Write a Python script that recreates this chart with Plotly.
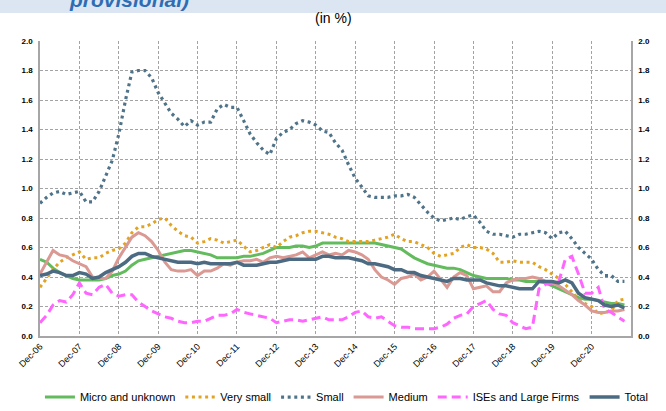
import pandas as pd
import plotly.graph_objects as go

# Bi-monthly observations, Dec-2006 .. Oct-2021 (in %)
dates = pd.date_range("2006-12-01", periods=90, freq="2MS")

micro = [0.52,0.50,0.46,0.43,0.41,0.39,0.38,0.38,0.38,0.38,
         0.39,0.41,0.42,0.44,0.48,0.51,0.52,0.53,0.54,0.55,
         0.56,0.57,0.58,0.58,0.57,0.56,0.55,0.53,0.53,0.53,
         0.53,0.54,0.54,0.55,0.56,0.58,0.60,0.60,0.60,0.61,
         0.61,0.60,0.61,0.63,0.63,0.63,0.63,0.63,0.63,0.63,
         0.63,0.63,0.62,0.61,0.60,0.59,0.56,0.53,0.51,0.49,
         0.48,0.47,0.46,0.46,0.45,0.43,0.41,0.40,0.39,0.39,
         0.39,0.39,0.38,0.38,0.37,0.37,0.37,0.36,0.34,0.32,
         0.30,0.28,0.26,0.25,0.25,0.24,0.23,0.22,0.22,0.21]

very_small = [0.33,0.39,0.45,0.50,0.53,0.55,0.57,0.52,0.53,0.53,
              0.56,0.58,0.59,0.63,0.70,0.74,0.74,0.76,0.79,0.80,
              0.75,0.71,0.68,0.67,0.63,0.64,0.66,0.65,0.63,0.64,
              0.65,0.61,0.57,0.58,0.60,0.62,0.60,0.64,0.67,0.68,
              0.70,0.71,0.71,0.70,0.69,0.67,0.66,0.64,0.64,0.64,
              0.64,0.65,0.66,0.67,0.69,0.66,0.64,0.64,0.62,0.60,
              0.56,0.54,0.55,0.56,0.60,0.62,0.60,0.60,0.59,0.56,
              0.50,0.50,0.51,0.50,0.50,0.50,0.47,0.45,0.42,0.39,
              0.35,0.30,0.25,0.22,0.20,0.15,0.16,0.17,0.24,0.25]

small = [0.90,0.94,0.97,0.98,0.96,0.97,0.98,0.91,0.91,0.98,
         1.09,1.19,1.37,1.60,1.79,1.80,1.80,1.75,1.65,1.58,
         1.51,1.47,1.42,1.46,1.43,1.45,1.45,1.54,1.57,1.55,
         1.55,1.46,1.37,1.31,1.26,1.23,1.34,1.38,1.40,1.44,
         1.46,1.45,1.43,1.39,1.38,1.31,1.26,1.16,1.07,1.01,
         0.95,0.94,0.94,0.94,0.95,0.95,0.96,0.94,0.89,0.84,
         0.80,0.78,0.79,0.80,0.79,0.81,0.82,0.77,0.71,0.69,
         0.69,0.68,0.67,0.69,0.69,0.70,0.71,0.70,0.66,0.70,
         0.71,0.66,0.60,0.56,0.52,0.45,0.41,0.41,0.37,0.37]

medium = [0.42,0.50,0.58,0.55,0.54,0.51,0.49,0.47,0.40,0.39,
          0.39,0.44,0.53,0.60,0.67,0.70,0.68,0.64,0.58,0.50,
          0.45,0.44,0.44,0.45,0.41,0.44,0.44,0.46,0.49,0.48,
          0.50,0.51,0.51,0.52,0.50,0.53,0.54,0.53,0.54,0.55,
          0.57,0.53,0.55,0.57,0.55,0.56,0.55,0.58,0.57,0.55,
          0.52,0.45,0.40,0.38,0.35,0.39,0.40,0.42,0.38,0.40,
          0.44,0.38,0.33,0.40,0.43,0.41,0.32,0.33,0.34,0.30,
          0.30,0.36,0.38,0.39,0.39,0.40,0.39,0.37,0.36,0.34,
          0.31,0.28,0.24,0.21,0.17,0.16,0.16,0.17,0.17,0.18]

ises_large = [0.09,0.14,0.21,0.24,0.23,0.28,0.36,0.29,0.28,0.33,
              0.35,0.29,0.27,0.28,0.28,0.23,0.20,0.17,0.15,0.13,
              0.12,0.10,0.09,0.09,0.10,0.10,0.12,0.14,0.14,0.15,
              0.18,0.16,0.15,0.14,0.13,0.12,0.09,0.10,0.11,0.11,
              0.10,0.11,0.12,0.13,0.11,0.11,0.11,0.13,0.16,0.17,
              0.13,0.12,0.13,0.10,0.07,0.06,0.06,0.05,0.05,0.05,
              0.05,0.06,0.08,0.12,0.14,0.15,0.20,0.22,0.24,0.18,
              0.15,0.14,0.09,0.07,0.05,0.06,0.32,0.35,0.36,0.37,
              0.52,0.54,0.42,0.29,0.29,0.33,0.18,0.16,0.13,0.10]

total = [0.41,0.42,0.44,0.43,0.41,0.41,0.43,0.42,0.39,0.40,
         0.43,0.45,0.47,0.50,0.54,0.56,0.56,0.54,0.53,0.52,
         0.51,0.50,0.50,0.50,0.49,0.50,0.49,0.49,0.49,0.49,
         0.50,0.48,0.48,0.48,0.49,0.50,0.50,0.51,0.52,0.52,
         0.52,0.52,0.52,0.54,0.54,0.53,0.53,0.53,0.52,0.51,
         0.49,0.49,0.48,0.47,0.45,0.45,0.43,0.43,0.41,0.40,
         0.39,0.38,0.37,0.39,0.39,0.38,0.38,0.38,0.36,0.35,
         0.34,0.34,0.33,0.32,0.32,0.32,0.37,0.37,0.37,0.36,
         0.38,0.36,0.29,0.26,0.25,0.24,0.21,0.20,0.21,0.19]

tick_years = list(range(2006, 2021))
tick_vals = [pd.Timestamp(f"{y}-12-01") for y in tick_years]
tick_text = [f"Dec-{str(y)[2:]}" for y in tick_years]
y_ticks = [0.0, 0.2, 0.4, 0.6, 0.8, 1.0, 1.2, 1.4, 1.6, 1.8, 2.0]

series = [
    ("Micro and unknown", micro, dict(color="#63bb5e", width=3)),
    ("Very small", very_small, dict(color="#e2a324", width=3, dash="3px,3.6px")),
    ("Small", small, dict(color="#4f7489", width=3.2, dash="3px,3.6px")),
    ("Medium", medium, dict(color="#da9993", width=3)),
    ("ISEs and Large Firms", ises_large, dict(color="#ff66ff", width=3, dash="9px,5px")),
    ("Total", total, dict(color="#4c6b82", width=3.5)),
]

fig = go.Figure()
for name, vals, line in series:
    fig.add_trace(go.Scatter(x=dates, y=vals, name=name, mode="lines", line=line))

# hidden trace to activate the mirrored right axis
fig.add_trace(go.Scatter(x=dates, y=total, yaxis="y2", mode="lines",
                         line=dict(width=0), opacity=0, showlegend=False,
                         hoverinfo="skip"))

grid = dict(showgrid=True, gridcolor="#a3a3a3", griddash="3px,2px", gridwidth=1)

axis_common = dict(range=[0, 2], tickvals=y_ticks, tickformat=".1f",
                   tickfont=dict(family="Liberation Sans", size=8, color="#000000", weight="bold"),
                   showline=True, linecolor="#a6a6a6", linewidth=1.5,
                   zeroline=False, ticks="", ticklabelstandoff=4, automargin=False)

fig.update_layout(
    width=666, height=411,
    margin=dict(l=40, r=35, t=41, b=75, autoexpand=False),
    paper_bgcolor="white", plot_bgcolor="white",
    showlegend=True,
    legend=dict(orientation="h", x=-0.0001, xanchor="left", y=-0.207, yanchor="middle",
                font=dict(family="Liberation Sans", size=11, color="#000000"),
                itemwidth=30, tracegroupgap=0),
    xaxis=dict(type="date", range=[pd.Timestamp("2006-12-01"), pd.Timestamp("2021-12-01")],
               tickvals=tick_vals, ticktext=tick_text, tickangle=-45,
               tickfont=dict(family="Liberation Sans", size=9, color="#000000"),
               **grid,
               showline=True, linecolor="#a6a6a6", linewidth=1.5, zeroline=False, ticks="",
               automargin=False),
    yaxis=dict(**axis_common, **grid),
    yaxis2=dict(**axis_common, overlaying="y", side="right", showgrid=False),
    shapes=[dict(type="rect", xref="paper", yref="paper",
                 x0=-40/591, x1=1+35/591, y0=(336-13)/295, y1=336/295 + 0.01,
                 fillcolor="#dce6f2", line=dict(width=0), layer="below")],
    annotations=[
        dict(text="<b><i>provisional)</i></b>", xref="paper", yref="paper",
             x=(67-40)/591, y=(336+1)/295, xanchor="left", yanchor="middle", showarrow=False,
             font=dict(family="Liberation Sans", size=21, color="#2e6db4")),
        dict(text="(in %)", xref="paper", yref="paper",
             x=(333-40)/591, y=(336-18)/295, xanchor="center", yanchor="middle", showarrow=False,
             font=dict(family="Liberation Sans", size=14, color="#000000")),
    ],
)

fig.write_html("out.html", config={"displayModeBar": False},
               post_script="document.body.style.margin='0';")
